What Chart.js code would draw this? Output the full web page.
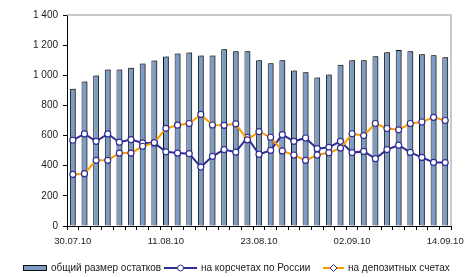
<!DOCTYPE html>
<html>
<head>
<meta charset="utf-8">
<script src="https://cdn.jsdelivr.net/npm/chart.js@4"></script>
<style>
  html, body { margin: 0; padding: 0; background: #fff; }
  #wrap { width: 475px; height: 277px; }
</style>
</head>
<body>
<div id="wrap"><canvas id="chart" width="475" height="277"></canvas></div>
<script>
// рабочие дни 30.07.10 - 14.09.10
const dates = [
    "30.07.10", "02.08.10", "03.08.10", "04.08.10", "05.08.10", "06.08.10", "09.08.10", "10.08.10",
    "11.08.10", "12.08.10", "13.08.10", "16.08.10", "17.08.10", "18.08.10", "19.08.10", "20.08.10",
    "23.08.10", "24.08.10", "25.08.10", "26.08.10", "27.08.10", "30.08.10", "31.08.10", "01.09.10",
    "02.09.10", "03.09.10", "06.09.10", "07.09.10", "08.09.10", "09.09.10", "10.09.10", "13.09.10",
    "14.09.10"
];
const tickEvery = 8;

const totalBalance = [910, 958, 998, 1038, 1038, 1050, 1078, 1098, 1125, 1145, 1152, 1132, 1132, 1172, 1160, 1160,
    1100, 1080, 1100, 1032, 1020, 985, 1005, 1070, 1100, 1100, 1127, 1153, 1167, 1160, 1140, 1133, 1120];
const correspondent = [569, 611, 562, 611, 556, 573, 551, 551, 492, 484, 480, 391, 462, 507, 490, 588,
    476, 502, 606, 562, 584, 513, 522, 562, 487, 495, 447, 507, 536, 488, 455, 422, 421];
const deposits = [342, 347, 436, 436, 484, 484, 529, 553, 648, 669, 680, 740, 670, 668, 678, 572,
    626, 589, 498, 471, 436, 471, 486, 517, 612, 600, 680, 647, 638, 680, 690, 721, 700];

const yTicks = { min: 0, max: 1400, step: 200 };

const FONT = "'Liberation Sans', Arial, sans-serif";
const BAR_FILL = '#7d9cc5';
const NAVY = '#2e2e96';
const ORANGE = '#ff9a00';

// тень справа от столбцов, как в excel
const barShadow = {
    id: 'barShadow',
    beforeDatasetDraw(chart, args) {
        if (args.index !== 0) return;
        const ctx = chart.ctx;
        ctx.save();
        ctx.shadowColor = 'rgba(60,60,60,0.75)';
        ctx.shadowOffsetX = 2;
        ctx.shadowOffsetY = 0;
        ctx.shadowBlur = 0;
    },
    afterDatasetDraw(chart, args) {
        if (args.index !== 0) return;
        chart.ctx.restore();
    }
};

// серая рамка области построения (верх и право)
const plotFrame = {
    id: 'plotFrame',
    beforeDatasetsDraw(chart) {
        const { ctx, chartArea: a } = chart;
        ctx.save();
        ctx.strokeStyle = '#b8b8b8';
        ctx.lineWidth = 1.5;
        ctx.beginPath();
        ctx.moveTo(a.left, a.top);
        ctx.lineTo(a.right, a.top);
        ctx.lineTo(a.right, a.bottom);
        ctx.stroke();
        ctx.restore();
    }
};

// легенда внизу: столбец, линия с маркером
const legendX = [23, 164, 323];
const swatchW = [24, 33, 21];

const bottomLegend = {
    id: 'bottomLegend',
    afterDraw(chart) {
        const ctx = chart.ctx;
        const y = 268;
        ctx.save();
        ctx.font = '10px ' + FONT;
        ctx.textBaseline = 'middle';

        chart.data.datasets.forEach((ds, i) => {
            const x = legendX[i];
            const w = swatchW[i];
            if (ds.type !== 'line') {
                ctx.fillStyle = ds.backgroundColor;
                ctx.fillRect(x, y - 3, w, 6);
                ctx.strokeStyle = '#111';
                ctx.lineWidth = 1;
                ctx.strokeRect(x + 0.5, y - 2.5, w - 1, 5);
            } else {
                ctx.strokeStyle = ds.borderColor;
                ctx.lineWidth = 2;
                ctx.beginPath();
                ctx.moveTo(x, y);
                ctx.lineTo(x + w, y);
                ctx.stroke();
                const cx = x + w / 2;
                ctx.fillStyle = '#fff';
                ctx.strokeStyle = NAVY;
                ctx.lineWidth = 1;
                ctx.beginPath();
                if (ds.legendMarker === 'diamond') {
                    ctx.moveTo(cx, y - 3.5);
                    ctx.lineTo(cx + 3.5, y);
                    ctx.lineTo(cx, y + 3.5);
                    ctx.lineTo(cx - 3.5, y);
                    ctx.closePath();
                } else {
                    ctx.arc(cx, y, 3, 0, Math.PI * 2);
                }
                ctx.fill();
                ctx.stroke();
            }
            ctx.fillStyle = '#222';
            ctx.fillText(ds.label, x + w + 4, y + 0.5);
        });
        ctx.restore();
    }
};

const ctx = document.getElementById('chart');

new Chart(ctx, {
    type: 'bar',
    data: {
        labels: dates,
        datasets: [{
            label: 'общий размер остатков',
            data: totalBalance,
            backgroundColor: BAR_FILL,
            borderColor: '#111',
            borderWidth: 1,
            barPercentage: 0.5,
            categoryPercentage: 1,
            order: 3
        }, {
            type: 'line',
            label: 'на корсчетах по России',
            data: correspondent,
            borderColor: NAVY,
            borderWidth: 2,
            tension: 0,
            pointRadius: 3,
            pointBackgroundColor: '#fff',
            pointBorderColor: NAVY,
            pointBorderWidth: 1.2,
            legendMarker: 'circle',
            order: 2
        }, {
            type: 'line',
            label: 'на депозитных счетах',
            data: deposits,
            borderColor: ORANGE,
            borderWidth: 2,
            tension: 0,
            pointRadius: 3,
            pointBackgroundColor: '#fff',
            pointBorderColor: NAVY,
            pointBorderWidth: 1.2,
            legendMarker: 'diamond',
            order: 1
        }]
    },
    options: {
        responsive: false,
        animation: false,
        layout: { padding: { top: 15, right: 24, bottom: 0, left: 0 } },
        plugins: {
            legend: { display: false },
            tooltip: { enabled: false }
        },
        scales: {
            x: {
                offset: true,
                grid: { offset: true, drawOnChartArea: false, drawTicks: true, tickLength: 4, color: '#000' },
                border: { display: true, color: '#000', width: 1 },
                ticks: {
                    autoSkip: false,
                    maxRotation: 0,
                    padding: 6,
                    color: '#222',
                    font: { family: FONT, size: 9.5 },
                    callback: (v, i) => (i % tickEvery === 0 ? dates[i] : '')
                },
                afterFit: s => { s.height = 51; }
            },
            y: {
                min: yTicks.min,
                max: yTicks.max,
                grid: { drawOnChartArea: false, drawTicks: true, tickLength: 4, color: '#000' },
                border: { display: true, color: '#000', width: 1 },
                ticks: {
                    stepSize: yTicks.step,
                    padding: 5,
                    color: '#222',
                    font: { family: FONT, size: 10 },
                    callback: v => String(v).replace(/\B(?=(\d{3})+(?!\d))/g, ' ')
                },
                afterFit: s => { s.width = 67; }
            }
        }
    },
    plugins: [barShadow, plotFrame, bottomLegend]
});
</script>
</body>
</html>
